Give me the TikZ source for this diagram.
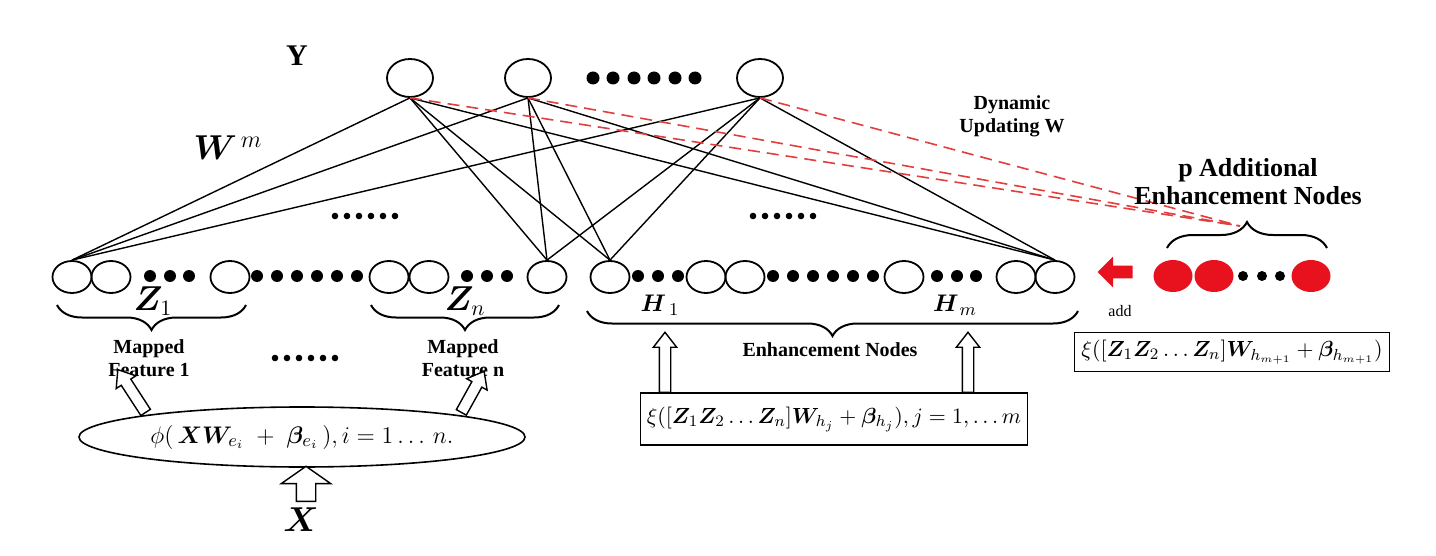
\documentclass[tikz,border=0pt]{standalone}
\usepackage{fontspec}
\setmainfont{Liberation Serif}
\usepackage{amsmath,bm}
\usetikzlibrary{shapes.geometric,shapes.arrows,decorations.pathreplacing}
\definecolor{addred}{RGB}{232,18,30}
\definecolor{dashred}{RGB}{226,62,62}
\tikzset{
  neuron/.style={draw, ellipse, line width=0.9pt, minimum width=19.5pt, minimum height=16pt, inner sep=0pt},
  outneuron/.style={neuron, minimum width=23pt, minimum height=19pt},
  addneuron/.style={neuron, draw=none, fill=addred},
  bigdot/.style={circle, fill, inner sep=0pt, minimum size=6pt},
  topdot/.style={bigdot, minimum size=6.5pt},
  reddot/.style={bigdot, minimum size=5pt},
  smalldot/.style={circle, fill, inner sep=0pt, minimum size=3.3pt},
  weight/.style={line width=0.7pt},
  update/.style={dashred, line width=0.8pt, dash pattern=on 6pt off 3.5pt},
  hollowarrow/.style={single arrow, draw, fill=white, line width=0.7pt, inner sep=2.5pt,
    single arrow head extend=3pt, single arrow tip angle=76, anchor=tail},
  bracebelow/.style={decorate, decoration={brace, mirror, amplitude=12.5pt}, line width=1pt},
  braceabove/.style={decorate, decoration={brace, amplitude=13pt}, line width=1pt},
  capt/.style={font=\bfseries\fontsize{10}{11.5}\selectfont, align=center, inner sep=0pt},
  formbox/.style={draw, line width=0.8pt, inner sep=0pt},
}
\begin{document}
\begin{tikzpicture}[x=0.5pt,y=-0.5pt]
  \useasboundingbox (0,0) rectangle (1436,556);
  % output layer Y
  \draw
    (410,78) node[outneuron] (y1){}
    (528,78) node[outneuron] (y2){}
    (760,78) node[outneuron] (y3){}
    (593,78) node[topdot] (ydot1){}
    (613,78) node[topdot] (ydot2){}
    (634,78) node[topdot] (ydot3){}
    (654,78) node[topdot] (ydot4){}
    (675,78) node[topdot] (ydot5){}
    (695,78) node[topdot] (ydot6){};
  % mapped features Z_1 ... Z_n
  \draw
    (72,277) node[neuron] (z1a){}
    (111,277) node[neuron] (z1b){}
    (230,277) node[neuron] (z1c){}
    (389,277) node[neuron] (zna){}
    (429,277) node[neuron] (znb){}
    (547,277) node[neuron] (znc){}
    (150,276) node[bigdot] (zdot1){}
    (170,276) node[bigdot] (zdot2){}
    (189,276) node[bigdot] (zdot3){}
    (257,276) node[bigdot] (zdot4){}
    (277,276) node[bigdot] (zdot5){}
    (297,276) node[bigdot] (zdot6){}
    (317,276) node[bigdot] (zdot7){}
    (337,276) node[bigdot] (zdot8){}
    (357,276) node[bigdot] (zdot9){}
    (467,276) node[bigdot] (zdot10){}
    (487,276) node[bigdot] (zdot11){}
    (507,276) node[bigdot] (zdot12){};
  % enhancement nodes H_1 ... H_m
  \draw
    (610,277) node[neuron] (h1a){}
    (706,277) node[neuron] (hxa){}
    (745,277) node[neuron] (hxb){}
    (904,277) node[neuron] (hmc){}
    (1016,277) node[neuron] (hma){}
    (1055,277) node[neuron] (hmb){}
    (638,276) node[bigdot] (hdot1){}
    (658,276) node[bigdot] (hdot2){}
    (678,276) node[bigdot] (hdot3){}
    (773,276) node[bigdot] (hdot4){}
    (793,276) node[bigdot] (hdot5){}
    (813,276) node[bigdot] (hdot6){}
    (833,276) node[bigdot] (hdot7){}
    (853,276) node[bigdot] (hdot8){}
    (873,276) node[bigdot] (hdot9){}
    (937,276) node[bigdot] (hdot10){}
    (957,276) node[bigdot] (hdot11){}
    (976,276) node[bigdot] (hdot12){};
  % p additional enhancement nodes
  \draw
    (1173,276) node[addneuron] (p1){}
    (1214,276) node[addneuron] (p2){}
    (1311,276) node[addneuron] (p3){}
    (1243,276) node[reddot] (pdot1){}
    (1262,276) node[reddot] (pdot2){}
    (1280,276) node[reddot] (pdot3){};
  \node[single arrow, fill=addred, inner sep=3pt, single arrow head extend=4.5pt,
    single arrow tip angle=90, minimum height=17.5pt, rotate=180, anchor=tail] (addarrow) at (1133,272) {};

  % weights
  \begin{scope}[weight]
    \draw (y1.south) to (z1a.north);
    \draw (y1.south) to (znc.north);
    \draw (y1.south) to (h1a.north);
    \draw (y1.south) to (hmb.north);
    \draw (y2.south) to (z1a.north);
    \draw (y2.south) to (znc.north);
    \draw (y2.south) to (h1a.north);
    \draw (y2.south) to (hmb.north);
    \draw (y3.south) to (z1a.north);
    \draw (y3.south) to (znc.north);
    \draw (y3.south) to (h1a.north);
    \draw (y3.south) to (hmb.north);
  \end{scope}
  \coordinate (ptip) at (1240,226);
  \begin{scope}[update]
    \draw (y1.south) to (ptip);
    \draw (y2.south) to (ptip);
    \draw (y3.south) to (ptip);
  \end{scope}

  % braces
  \draw[bracebelow] (57,305) -- (246,305);
  \draw[bracebelow] (371,305) -- (559,305);
  \draw[bracebelow] (587,311) -- (1078,311);
  \draw[braceabove] (1167,248) -- (1327,248);

  % labels
  \node[font=\bfseries\fontsize{15}{16}\selectfont] (ylab) at (297,56) {Y};
  \node[font=\fontsize{18}{20}\selectfont] (wlab) at (228,148) {$\bm{W}^{\,m}$};
  \node[capt] (dynlab) at (1012,116) {Dynamic\\Updating W};
  \node[capt, font=\bfseries\fontsize{13}{14}\selectfont] (plab) at (1248,182) {p Additional\\Enhancement Nodes};
  \node[font=\fontsize{16}{18}\selectfont] (z1lab) at (153,301) {$\bm{Z}_1$};
  \node[font=\fontsize{16}{18}\selectfont] (znlab) at (465,301) {$\bm{Z}_n$};
  \node[font=\fontsize{12.5}{14}\selectfont] (h1lab) at (660,305) {$\bm{H}_{\;1}$};
  \node[font=\fontsize{12.5}{14}\selectfont] (hmlab) at (955,305) {$\bm{H}_{\,m}$};
  \node[capt] (mf1) at (149,358) {Mapped\\Feature 1};
  \node[capt] (mfn) at (463,358) {Mapped\\Feature n};
  \node[capt] (enhlab) at (830,350) {Enhancement Nodes};
  \node[font=\fontsize{8}{9}\selectfont] (addlab) at (1120,311) {add};
  \draw
    (275,358) node[smalldot] (mdot1){}
    (287,358) node[smalldot] (mdot2){}
    (299,358) node[smalldot] (mdot3){}
    (311,358) node[smalldot] (mdot4){}
    (323,358) node[smalldot] (mdot5){}
    (335,358) node[smalldot] (mdot6){};
  \draw
    (335,216) node[smalldot] (wdot1){}
    (347,216) node[smalldot] (wdot2){}
    (359,216) node[smalldot] (wdot3){}
    (371,216) node[smalldot] (wdot4){}
    (383,216) node[smalldot] (wdot5){}
    (395,216) node[smalldot] (wdot6){};
  \draw
    (753,216) node[smalldot] (edot1){}
    (765,216) node[smalldot] (edot2){}
    (777,216) node[smalldot] (edot3){}
    (789,216) node[smalldot] (edot4){}
    (801,216) node[smalldot] (edot5){}
    (813,216) node[smalldot] (edot6){};

  % generating functions
  \node[draw, ellipse, line width=0.8pt, minimum width=223pt, minimum height=30pt,
    inner xsep=-14pt, inner ysep=0pt, font=\fontsize{13}{15}\selectfont] (mapping) at (302,437)
    {$\phi(\,\bm{X}\bm{W}_{e_i}\;+\;\bm{\beta}_{e_i}\,), i=1\ldots\, n.$};
  \node[formbox, minimum width=193.5pt, minimum height=26pt, font=\fontsize{11.3}{13}\selectfont] (enhbox) at (834,419)
    {$\xi([\bm{Z}_1\bm{Z}_2\ldots\bm{Z}_n]\bm{W}_{h_j}+\bm{\beta}_{h_j}), j=1,\ldots m$};
  \node[formbox, minimum width=157.5pt, minimum height=19.5pt, font=\fontsize{11}{13}\selectfont] (addbox) at (1232,352)
    {$\xi([\bm{Z}_1\bm{Z}_2\ldots\bm{Z}_n]\bm{W}_{h_{m+1}}+\bm{\beta}_{h_{m+1}})$};
  \node (xlab) [font=\fontsize{18}{20}\selectfont] at (301,520) {$\bm{X}$};

  % hollow arrows
  \node[hollowarrow, inner sep=4.5pt, single arrow head extend=7.5pt, single arrow tip angle=110,
    minimum height=17.5pt, rotate=90] (xin) at (306,502) {};
  \node[hollowarrow, minimum height=25.5pt, rotate=123] (tomf1) at (146,413) {};
  \node[hollowarrow, minimum height=23.5pt, rotate=61] (tomfn) at (461,413) {};
  \node[hollowarrow, minimum height=30pt, rotate=90] (toh1) at (665,393) {};
  \node[hollowarrow, minimum height=30pt, rotate=90] (tohm) at (968,393) {};
\end{tikzpicture}
\end{document}
